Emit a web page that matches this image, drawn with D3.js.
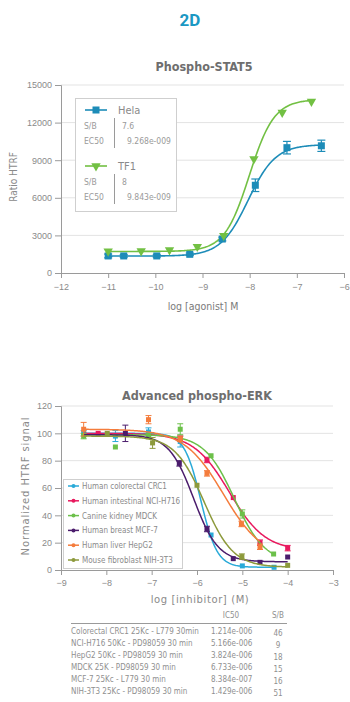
<!doctype html>
<html>
<head>
<meta charset="utf-8">
<title>2D - Phospho-STAT5 / Advanced phospho-ERK</title>
<script src="https://cdnjs.cloudflare.com/ajax/libs/d3/7.8.5/d3.min.js"></script>
<style>
  body { margin: 0; background: #fff; }
  svg { display: block; font-family: "Liberation Sans Narrow", "DejaVu Sans Condensed", "Roboto", sans-serif; }
  .grid line { stroke: #e3e3e3; }
  .axis path, .axis line { stroke: #9a9a9a; }
  .axis text { fill: #8a8a8a; font-size: 9px; }
</style>
</head>
<body>
<script>

// ---- Phospho-STAT5 data ----
var helaX = [-11, -10.67, -9.97, -9.27, -8.58, -7.88, -7.21, -6.48];
var helaY = [1360, 1360, 1360, 1490, 2710, 7000, 10000, 10150];
var helaErr = [150, 100, 100, 100, 150, 500, 500, 450];
var tf1X = [-11, -10.3, -9.7, -9.11, -8.55, -7.91, -7.31, -6.69];
var tf1Y = [1730, 1750, 1830, 2100, 2980, 9100, 12800, 13680];
// fit params: bottom, top, logEC50, hill
var helaFit = [1350, 10250, Math.log10(9.268e-9), 1.5];
var tf1Fit = [1720, 13850, Math.log10(9.843e-9), 1.65];
var stat5YTicks = [0, 3000, 6000, 9000, 12000, 15000];
var stat5XTicks = [-12, -11, -10, -9, -8, -7, -6];
var stat5Legend = [
  {name: "Hela", sb: "7.6", ec50: "9.268e-009"},
  {name: "TF1", sb: "8", ec50: "9.843e-009"}
];

// ---- Advanced phospho-ERK data ----
var erkNames = ["Human colorectal CRC1", "Human intestinal NCI-H716", "Canine kidney MDCK",
                "Human breast MCF-7", "Human liver HepG2", "Mouse fibroblast NIH-3T3"];
var erkColors = ["#2aaad8", "#e8195e", "#6cc04a", "#4b1c6c", "#f47c3c", "#8d9a3c"];
var crc1X = [-8.5, -7.8, -7.07, -6.37, -5.69, -5.0, -4.3];
var crc1Y = [100, 98, 101, 94, 25.6, 3, 2];
var crc1Err = [2, 4, 3, 4, 1, 1, 1];
var nciX = [-8.18, -6.37, -5.78, -5.2, -4.61, -4.0];
var nciY = [100, 96, 80.5, 53, 20, 16];
var nciErr = [1, 2, 2, 1, 2, 2];
var mdckX = [-8.5, -7.8, -7.07, -6.37, -5.69, -5.0, -4.31];
var mdckY = [98, 90, 98, 103, 83.6, 41, 11.7];
var mdckErr = [2, 1, 2, 4, 1, 3, 1];
var mcf7X = [-7.58, -6.39, -5.78, -5.2, -4.61, -4.0];
var mcf7Y = [100, 78, 30, 8.3, 5.6, 9.5];
var mcf7Err = [6, 2, 2, 1, 1, 1];
var hepX = [-8.5, -7.07, -6.37, -5.78, -5.02, -4.61];
var hepY = [103, 110, 96, 70.7, 33.7, 17];
var hepErr = [5, 3, 2, 2, 2, 2];
var nihX = [-7.98, -6.98, -6.0, -5.01, -4.0];
var nihY = [100, 93, 62, 9.8, 3.4];
var nihErr = [1, 4, 1, 2, 1];
// fit params: bottom, top, logIC50, hill
var erkFits = [
  [2, 100, Math.log10(1.214e-6), 2.4],
  [14, 100, Math.log10(5.166e-6), 1.1],
  [5, 99, Math.log10(6.733e-6), 1.3],
  [6, 99, Math.log10(8.384e-7), 1.6],
  [8, 103, Math.log10(3.824e-6), 1.0],
  [2, 98, Math.log10(1.429e-6), 1.35]
];
var erkYTicks = [0, 20, 40, 60, 80, 100, 120];
var erkXTicks = [-9, -8, -7, -6, -5, -4, -3];
var tableRows = ["Colorectal CRC1 25Kc - L779 30min", "NCI-H716 50Kc - PD98059 30 min",
                 "HepG2 50Kc - PD98059 30 min", "MDCK 25K - PD98059 30 min",
                 "MCF-7 25Kc - L779 30 min", "NIH-3T3 25Kc - PD98059 30 min"];
var tableIC50 = ["1.214e-006", "5.166e-006", "3.824e-006", "6.733e-006", "8.384e-007", "1.429e-006"];
var tableSB = ["46", "9", "18", "15", "16", "51"];

var svg = d3.select("body").append("svg")
    .attr("width", 350)
    .attr("height", 702);

svg.append("text")
    .attr("x", 190).attr("y", 26)
    .attr("text-anchor", "middle")
    .style("font-family", "Roboto, 'DejaVu Sans', sans-serif")
    .style("font-weight", "bold")
    .style("font-size", "17px")
    .attr("fill", "#1b98c3")
    .text("2D");

function zip(xs, ys, es) {
  return xs.map(function(x, i) { return {x: x, y: ys[i], e: es ? es[i] : 0}; });
}

function fitCurve(p, x0, x1) {
  // sample the 4-parameter logistic over the drawn range
  var pts = d3.range(x0, x1 + 0.001, 0.02);
  return pts.map(function(x) {
    return {x: x, y: p[0] + (p[1] - p[0]) / (1 + Math.pow(10, (p[2] - x) * p[3]))};
  });
}
function fitCurveDown(p, x0, x1) {
  var pts = d3.range(x0, x1 + 0.001, 0.02);
  return pts.map(function(x) {
    return {x: x, y: p[0] + (p[1] - p[0]) / (1 + Math.pow(10, (x - p[2]) * p[3]))};
  });
}

// =================== chart 1 ===================
var x1 = d3.scaleLinear().domain([-12, -6]).range([61, 344]);
var y1 = d3.scaleLinear().domain([0, 15000]).range([273, 85]);

var g1 = svg.append("g");

g1.append("text")
    .attr("x", 204).attr("y", 71)
    .attr("text-anchor", "middle")
    .style("font-weight", "bold").style("font-size", "12.5px")
    .attr("fill", "#6e6e6e")
    .text("Phospho-STAT5");

g1.append("g").attr("class", "grid")
  .selectAll("line").data(stat5YTicks.slice(1)).enter().append("line")
    .attr("x1", 61).attr("x2", 344)
    .attr("y1", function(d) { return y1(d); })
    .attr("y2", function(d) { return y1(d); });

g1.append("g").attr("class", "axis")
    .attr("transform", "translate(0," + y1(0) + ")")
    .call(d3.axisBottom(x1).tickValues(stat5XTicks).tickSize(5).tickPadding(6).tickFormat(d3.format("d")));
g1.append("g").attr("class", "axis")
    .attr("transform", "translate(" + x1(-12) + ",0)")
    .call(d3.axisLeft(y1).tickValues(stat5YTicks).tickSize(6).tickPadding(3).tickFormat(d3.format("d")));

g1.append("text")
    .attr("x", 203).attr("y", 310)
    .attr("text-anchor", "middle")
    .style("font-size", "10.5px").attr("fill", "#7a7a7a")
    .text("log [agonist] M");
g1.append("text")
    .attr("transform", "translate(17,177) rotate(-90)")
    .attr("text-anchor", "middle")
    .style("font-size", "10px").attr("fill", "#8a8a8a")
    .text("Ratio HTRF");

var line1 = d3.line()
    .x(function(d) { return x1(d.x); })
    .y(function(d) { return y1(d.y); });

var blue = "#1d8cb8", green = "#72c043";

g1.append("path")
    .datum(fitCurve(helaFit, -11, -6.48))
    .attr("d", line1).attr("fill", "none")
    .attr("stroke", blue).attr("stroke-width", 1.6);
g1.append("path")
    .datum(fitCurve(tf1Fit, -11, -6.69))
    .attr("d", line1).attr("fill", "none")
    .attr("stroke", green).attr("stroke-width", 1.6);

// error bars (Hela)
var helaPts = zip(helaX, helaY, helaErr);
var eb = g1.append("g").attr("stroke", blue).attr("stroke-width", 1.2);
helaPts.forEach(function(d) {
  eb.append("line").attr("x1", x1(d.x)).attr("x2", x1(d.x))
    .attr("y1", y1(d.y - d.e)).attr("y2", y1(d.y + d.e));
  [d.y - d.e, d.y + d.e].forEach(function(v) {
    eb.append("line").attr("x1", x1(d.x) - 4).attr("x2", x1(d.x) + 4)
      .attr("y1", y1(v)).attr("y2", y1(v));
  });
});

g1.selectAll(".hela").data(helaPts).enter().append("rect")
    .attr("x", function(d) { return x1(d.x) - 3.5; })
    .attr("y", function(d) { return y1(d.y) - 3.5; })
    .attr("width", 7).attr("height", 7)
    .attr("fill", blue);

var tri = d3.symbol().type(d3.symbolTriangle).size(38);
g1.selectAll(".tf1").data(zip(tf1X, tf1Y)).enter().append("path")
    .attr("d", tri)
    .attr("transform", function(d) { return "translate(" + x1(d.x) + "," + y1(d.y) + ") rotate(180)"; })
    .attr("fill", green);

// legend box
var lg = g1.append("g");
lg.append("rect")
    .attr("x", 75.5).attr("y", 98.5).attr("width", 101).attr("height", 113)
    .attr("fill", "#fff").attr("stroke", "#cfcfcf");
stat5Legend.forEach(function(d, i) {
  var top = 110 + i * 56;
  var col = i === 0 ? blue : green;
  lg.append("line").attr("x1", 85).attr("x2", 107).attr("y1", top).attr("y2", top)
    .attr("stroke", col).attr("stroke-width", 1.6);
  if (i === 0) {
    lg.append("rect").attr("x", 92.5).attr("y", top - 3.5).attr("width", 7).attr("height", 7).attr("fill", col);
  } else {
    lg.append("path").attr("d", tri).attr("transform", "translate(96," + top + ") rotate(180)").attr("fill", col);
  }
  lg.append("text").attr("x", 118).attr("y", top + 4)
    .style("font-size", "11px").attr("fill", "#8a8a8a").text(d.name);
  lg.append("line").attr("x1", 114.5).attr("x2", 114.5)
    .attr("y1", top + 8).attr("y2", top + 38).attr("stroke", "#9a9a9a");
  lg.append("text").attr("x", 84).attr("y", top + 18.5)
    .style("font-size", "8.5px").attr("fill", "#9a9a9a").text("S/B");
  lg.append("text").attr("x", 84).attr("y", top + 33.5)
    .style("font-size", "8.5px").attr("fill", "#9a9a9a").text("EC50");
  lg.append("text").attr("x", 122).attr("y", top + 18.5)
    .style("font-size", "8.5px").attr("fill", "#9a9a9a").text(d.sb);
  lg.append("text").attr("x", 127).attr("y", top + 33.5)
    .style("font-size", "8.5px").attr("fill", "#9a9a9a").text(d.ec50);
});

// =================== chart 2 ===================
var x2 = d3.scaleLinear().domain([-9, -3]).range([61, 333]);
var y2 = d3.scaleLinear().domain([0, 120]).range([570, 406]);
var g2 = svg.append("g");

g2.append("text")
    .attr("x", 197).attr("y", 400)
    .attr("text-anchor", "middle")
    .style("font-weight", "bold").style("font-size", "12.5px")
    .attr("fill", "#6e6e6e")
    .text("Advanced phospho-ERK");

g2.append("g").attr("class", "grid")
  .selectAll("line").data(erkYTicks.slice(1)).enter().append("line")
    .attr("x1", 61).attr("x2", 333)
    .attr("y1", function(d) { return y2(d); })
    .attr("y2", function(d) { return y2(d); });

g2.append("g").attr("class", "axis")
    .attr("transform", "translate(0," + y2(0) + ")")
    .call(d3.axisBottom(x2).tickValues(erkXTicks).tickSize(5).tickPadding(5).tickFormat(d3.format("d")));
g2.append("g").attr("class", "axis")
    .attr("transform", "translate(" + x2(-9) + ",0)")
    .call(d3.axisLeft(y2).tickValues(erkYTicks).tickSize(6).tickPadding(3).tickFormat(d3.format("d")));

g2.append("text")
    .attr("x", 200).attr("y", 603)
    .attr("text-anchor", "middle")
    .style("font-family", "'DejaVu Sans', sans-serif")
    .style("font-size", "10px").style("letter-spacing", "0.6px")
    .attr("fill", "#8a8a8a")
    .text("log [inhibitor] (M)");
g2.append("text")
    .attr("transform", "translate(29,486) rotate(-90)")
    .attr("text-anchor", "middle")
    .style("font-family", "'DejaVu Sans', sans-serif")
    .style("font-size", "10px").style("letter-spacing", "0.9px")
    .attr("fill", "#8a8a8a")
    .text("Normalized HTRF signal");

var line2 = d3.line()
    .x(function(d) { return x2(d.x); })
    .y(function(d) { return y2(d.y); });

var erkSeries = [
  zip(crc1X, crc1Y, crc1Err), zip(nciX, nciY, nciErr), zip(mdckX, mdckY, mdckErr),
  zip(mcf7X, mcf7Y, mcf7Err), zip(hepX, hepY, hepErr), zip(nihX, nihY, nihErr)
];
var curveStart = [-8.5, -8.5, -8.5, -8.5, -8.5, -8.5];

erkSeries.forEach(function(pts, i) {
  var col = erkColors[i];
  var last = pts[pts.length - 1].x;
  g2.append("path")
      .datum(fitCurveDown(erkFits[i], curveStart[i], last))
      .attr("d", line2).attr("fill", "none")
      .attr("stroke", col).attr("stroke-width", 1.5);
  var eg = g2.append("g").attr("stroke", col).attr("stroke-width", 1);
  pts.forEach(function(d) {
    if (d.e < 2) return;
    eg.append("line").attr("x1", x2(d.x)).attr("x2", x2(d.x))
      .attr("y1", y2(d.y - d.e)).attr("y2", y2(d.y + d.e));
    [d.y - d.e, d.y + d.e].forEach(function(v) {
      eg.append("line").attr("x1", x2(d.x) - 3).attr("x2", x2(d.x) + 3)
        .attr("y1", y2(v)).attr("y2", y2(v));
    });
  });
  g2.append("g").selectAll("rect").data(pts).enter().append("rect")
      .attr("x", function(d) { return x2(d.x) - 2.5; })
      .attr("y", function(d) { return y2(d.y) - 2.5; })
      .attr("width", 5).attr("height", 5)
      .attr("fill", col);
});

// legend
var lg2 = g2.append("g");
lg2.append("rect")
    .attr("x", 63.5).attr("y", 479.5).attr("width", 119).attr("height", 89)
    .attr("fill", "#fff").attr("stroke", "#cfcfcf");
erkNames.forEach(function(name, i) {
  var yy = 486 + i * 14.8;
  lg2.append("line").attr("x1", 68).attr("x2", 79).attr("y1", yy).attr("y2", yy)
    .attr("stroke", erkColors[i]).attr("stroke-width", 1.5);
  lg2.append("circle").attr("cx", 73.5).attr("cy", yy).attr("r", 2).attr("fill", erkColors[i]);
  lg2.append("text").attr("x", 82).attr("y", yy + 3)
    .style("font-size", "8px").attr("fill", "#8a8a8a").text(name);
});

// table
var tg = svg.append("g").style("font-size", "8px").attr("fill", "#8f8f8f");
tg.append("text").attr("x", 231).attr("y", 618).attr("text-anchor", "middle").text("IC50");
tg.append("text").attr("x", 278).attr("y", 618).attr("text-anchor", "middle").text("S/B");
tg.append("line").attr("x1", 71).attr("x2", 287).attr("y1", 623.5).attr("y2", 623.5)
    .attr("stroke", "#9a9a9a").attr("stroke-width", 1);
tableRows.forEach(function(r, i) {
  var yy = 634 + i * 12;
  tg.append("text").attr("x", 71).attr("y", yy).text(r);
  tg.append("text").attr("x", 211).attr("y", yy).text(tableIC50[i]);
  tg.append("text").attr("x", 278).attr("y", yy + 2).attr("text-anchor", "middle").text(tableSB[i]);
});

</script>
</body>
</html>
